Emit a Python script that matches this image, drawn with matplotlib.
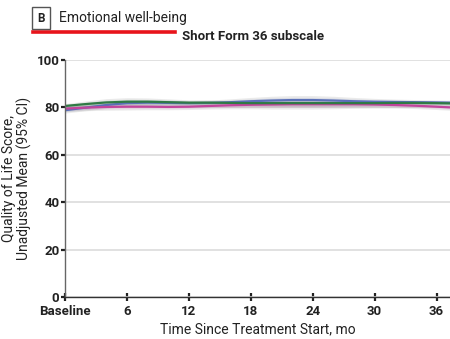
import matplotlib.pyplot as plt
import numpy as np

months = [0, 2, 4, 6, 8, 10, 12, 14, 16, 18, 20, 22, 24, 26, 28, 30, 32, 34, 36, 37.3]

green_mean = [80.6, 81.4, 82.1, 82.4, 82.4, 82.2, 82.0, 82.0, 81.9, 81.8, 81.8, 81.8, 81.8, 81.8, 81.8, 81.8, 81.9, 81.9, 81.8, 81.7]
green_half = [1.0, 1.3, 1.6, 1.7, 1.6, 1.4, 1.2, 1.1, 1.1, 1.2, 1.3, 1.4, 1.4, 1.3, 1.2, 1.1, 1.0, 1.0, 1.0, 1.0]

blue_mean = [78.8, 79.9, 81.0, 81.8, 82.0, 81.9, 81.8, 81.9, 82.2, 82.6, 82.9, 83.1, 83.1, 82.9, 82.6, 82.4, 82.3, 82.2, 82.1, 82.0]
blue_half = [1.2, 1.3, 1.4, 1.4, 1.3, 1.2, 1.1, 1.2, 1.4, 1.6, 1.8, 1.9, 1.9, 1.8, 1.6, 1.4, 1.2, 1.1, 1.0, 1.0]

magenta_mean = [79.5, 79.9, 80.2, 80.3, 80.3, 80.2, 80.3, 80.6, 80.9, 81.1, 81.2, 81.3, 81.3, 81.3, 81.3, 81.2, 81.0, 80.7, 80.3, 80.0]
magenta_half = [1.2, 1.3, 1.4, 1.4, 1.3, 1.2, 1.2, 1.3, 1.5, 1.7, 1.9, 2.0, 2.0, 1.9, 1.7, 1.5, 1.3, 1.2, 1.2, 1.2]

x_ticks = [0, 6, 12, 18, 24, 30, 36]
x_tick_labels = ['Baseline', '6', '12', '18', '24', '30', '36']
y_ticks = [0, 20, 40, 60, 80, 100]

series = [
    (blue_mean, blue_half, '#5a6fb8'),
    (magenta_mean, magenta_half, '#c2449c'),
    (green_mean, green_half, '#2f7a45'),
]

plt.rcParams['font.family'] = ['Roboto', 'DejaVu Sans']

fig = plt.figure(figsize=(4.5, 3.39), dpi=100)
ax = fig.add_axes([0.1444, 0.124, 0.8556, 0.699])

for mean, half, color in series:
    m = np.array(mean)
    h = np.array(half)
    ax.fill_between(months, m - h, m + h, color='#9a9a9a', alpha=0.2, lw=0)
    ax.fill_between(months, m - h * 0.6, m + h * 0.6, color=color, alpha=0.12, lw=0)

for mean, half, color in series:
    ax.plot(months, mean, color=color, lw=1.6, solid_capstyle='butt')

ax.set_xlim(0, 37.3)
ax.set_ylim(0, 100)
ax.set_yticks(y_ticks)
ax.set_xticks(x_ticks)
ax.set_xticklabels(x_tick_labels)
ax.grid(axis='y', color='#dcdcdc', lw=1.2)
ax.set_axisbelow(True)

for side in ('top', 'right'):
    ax.spines[side].set_visible(False)
ax.spines['left'].set_color('#666666')
ax.spines['bottom'].set_color('#333333')
for side in ('left', 'bottom'):
    ax.spines[side].set_linewidth(1.0)

ax.tick_params(axis='both', length=3, width=1.6, color='#222222', pad=1,
               labelsize=9.5, labelcolor='#222222')
ax.tick_params(axis='x', direction='inout', length=6, pad=3)
for lbl in ax.get_xticklabels() + ax.get_yticklabels():
    lbl.set_fontweight('bold')

ax.set_xlabel('Time Since Treatment Start, mo', fontsize=10, color='#222222', labelpad=3)
ax.set_ylabel('Quality of Life Score,\nUnadjusted Mean (95% CI)', fontsize=10,
              color='#222222', labelpad=3, linespacing=1.05)

# panel header
fig.text(41 / 450, 1 - 18 / 339, 'B', fontsize=8.5, fontweight='bold', color='#222222',
         ha='center', va='center',
         bbox=dict(boxstyle='square,pad=0.42', fc='white', ec='#555555', lw=1))
fig.text(59 / 450, 1 - 18 / 339, 'Emotional well-being', fontsize=10,
         color='#222222', va='center')
fig.add_artist(plt.Line2D([33 / 450, 175 / 450], [1 - 32 / 339, 1 - 32 / 339],
                          color='#e8141b', lw=2.6))
fig.text(182 / 450, 1 - 37 / 339, 'Short Form 36 subscale', fontsize=9.5,
         fontweight='bold', color='#222222', va='center')

fig.savefig('out.png', dpi=100)
